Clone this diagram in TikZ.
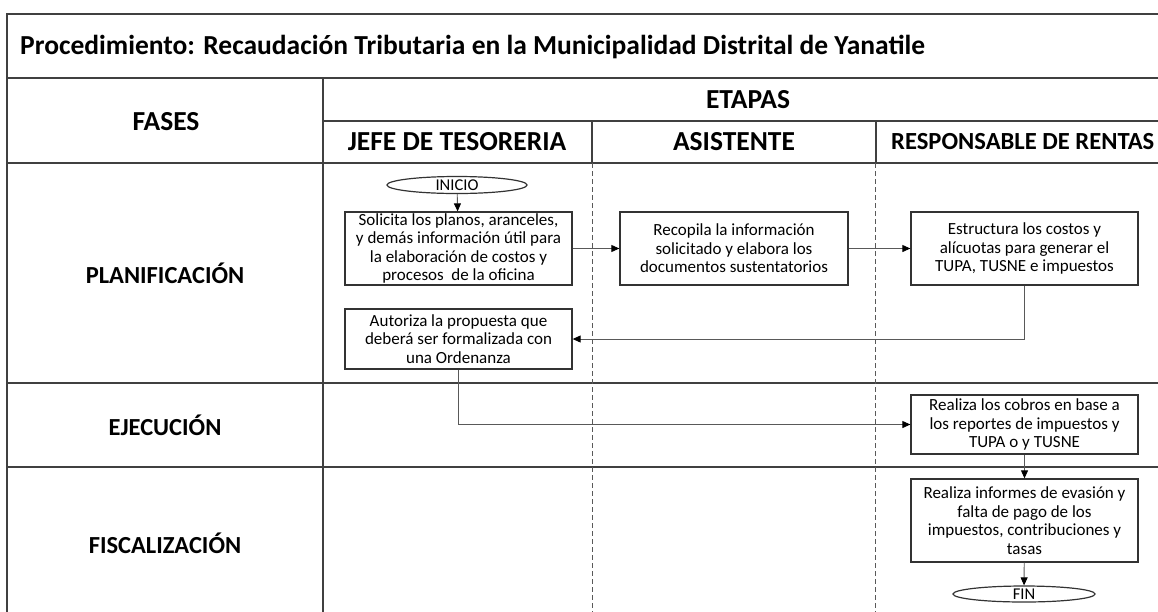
\documentclass[tikz,border=0pt]{standalone}
\usepackage{fontspec}
\setmainfont{Carlito}
\usetikzlibrary{shapes.geometric,arrows.meta}

\begin{document}
\begin{tikzpicture}[x=1pt,y=-1pt,
	grid/.style={draw=black!75,line width=1.6pt},
	lane/.style={draw=black!65,line width=0.8pt,dash pattern=on 5pt off 3pt},
	paso/.style={draw=black!80,line width=1.3pt,align=center,minimum width=227pt,inner xsep=2pt,inner ysep=0pt,font=\fontsize{17}{18.5}\selectfont},
	terminal/.style={ellipse,draw=black!80,line width=1.2pt,minimum width=140pt,minimum height=17pt,inner sep=0pt,font=\fontsize{16.5}{18}\selectfont},
	enc/.style={font=\bfseries\fontsize{27.5}{30}\selectfont},
	fase/.style={font=\bfseries\fontsize{24.5}{27}\selectfont},
	flecha/.style={draw=black!65,line width=0.9pt,-{Triangle[length=8pt,width=7pt,color=black]}}]
	\useasboundingbox (0,0) rectangle (1158,611);
	\clip (0,0) rectangle (1158,611);

	% tabla
	\draw[grid] (1174,14) -- (7,14) -- (7,640);
	\draw[grid] (7,78) -- (1174,78);
	\draw[grid] (323,121) -- (1174,121);
	\draw[grid] (7,163) -- (1174,163);
	\draw[grid] (7,383) -- (1174,383);
	\draw[grid] (7,467) -- (1174,467);
	\draw[grid] (323,78) -- (323,640);
	\draw[grid] (592,121) -- (592,163);
	\draw[grid] (876,121) -- (876,163);
	\draw[lane] (592,163) -- (592,640);
	\draw[lane] (875,163) -- (875,640);

	% encabezados
	\node[anchor=west,enc,inner xsep=0pt] (titulo) at (20,47) {Procedimiento: Recaudación Tributaria en la Municipalidad Distrital de Yanatile};
	\node[enc] (fases) at (166,122) {FASES};
	\node[enc] (etapas) at (748,100) {ETAPAS};
	\node[enc] (jefe) at (457,142) {JEFE DE TESORERIA};
	\node[enc] (asist) at (734,142) {ASISTENTE};
	\node[anchor=west,inner xsep=0pt,font=\bfseries\fontsize{24.6}{27}\selectfont] (rentas) at (891,142) {RESPONSABLE DE RENTAS};
	\node[fase] (plan) at (165,273) {PLANIFICACIÓN};
	\node[fase] (ejec) at (165,425) {EJECUCIÓN};
	\node[fase] (fisc) at (165,543) {FISCALIZACIÓN};

	% pasos
	\node[terminal] (inicio) at (457,185) {INICIO};
	\node[paso,minimum height=73pt] (solicita) at (458.5,248.5) {Solicita los planos, aranceles,\\y demás información útil para\\la elaboración de costos y\\procesos\ \ de la oficina};
	\node[paso,minimum height=60pt] (autoriza) at (458.5,339) {Autoriza la propuesta que\\deberá ser formalizada con\\una Ordenanza};
	\node[paso,minimum height=73pt,minimum width=228pt] (recopila) at (734,248.5) {Recopila la información\\solicitado y elabora los\\documentos sustentatorios};
	\node[paso,minimum height=73pt] (estructura) at (1024.5,248.5) {Estructura los costos y\\alícuotas para generar el\\TUPA, TUSNE e impuestos};
	\node[paso,minimum height=59pt] (cobros) at (1024.5,424.5) {Realiza los cobros en base a\\los reportes de impuestos y\\TUPA o y TUSNE};
	\node[paso,minimum height=83pt] (informes) at (1024.5,520.5) {Realiza informes de evasión y\\falta de pago de los\\impuestos, contribuciones y\\tasas};
	\node[terminal,minimum width=142pt,minimum height=16pt] (fin) at (1024,594) {FIN};

	% flujo
	\draw[flecha] (inicio) -- (solicita);
	\draw[flecha] (solicita) -- (recopila);
	\draw[flecha] (recopila) -- (estructura);
	\draw[flecha] (estructura.south) |- (autoriza.east);
	\draw[flecha] (autoriza.south) |- (cobros.west);
	\draw[flecha] (cobros) -- (informes);
	\draw[flecha] (informes) -- (fin);
\end{tikzpicture}
\end{document}
